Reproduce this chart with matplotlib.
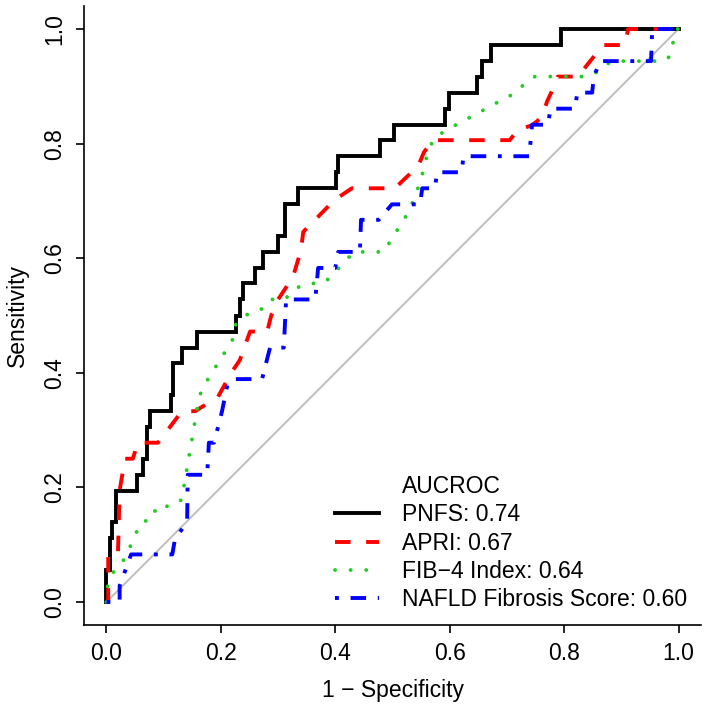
import matplotlib
matplotlib.use("Agg")
import matplotlib.pyplot as plt
from matplotlib.lines import Line2D

plt.rcParams['font.family'] = ['Liberation Sans', 'DejaVu Sans']

# ---- data (1 - specificity, sensitivity) ----
# PNFS: step curve, points where sensitivity jumps (steps-post)
pnfs_fpr = [0, 0, 0.006, 0.010, 0.017, 0.053, 0.063, 0.070, 0.076, 0.113, 0.117,
            0.132, 0.158, 0.227, 0.233, 0.239, 0.260, 0.274, 0.300, 0.312, 0.334,
            0.402, 0.405, 0.478, 0.503, 0.591, 0.599, 0.648, 0.656, 0.673, 0.795, 1.0]
pnfs_tpr = [0, 0.056, 0.111, 0.139, 0.194, 0.222, 0.250, 0.306, 0.333, 0.361, 0.417,
            0.444, 0.472, 0.500, 0.528, 0.556, 0.583, 0.611, 0.639, 0.694, 0.722,
            0.750, 0.778, 0.806, 0.833, 0.861, 0.889, 0.917, 0.944, 0.972, 1.0, 1.0]

apri_fpr = [0, 0.003, 0.003, 0.020, 0.023, 0.029, 0.032, 0.046, 0.055, 0.090, 0.132,
            0.155, 0.195, 0.218, 0.233, 0.251, 0.281, 0.288, 0.298, 0.326, 0.340,
            0.344, 0.399, 0.429, 0.504, 0.545, 0.555, 0.571, 0.705, 0.719, 0.744,
            0.761, 0.770, 0.781, 0.789, 0.824, 0.868, 0.906, 0.912, 1.0]
apri_tpr = [0, 0, 0.083, 0.083, 0.195, 0.230, 0.250, 0.250, 0.278, 0.278, 0.333,
            0.333, 0.358, 0.400, 0.422, 0.472, 0.472, 0.500, 0.525, 0.567, 0.614,
            0.646, 0.702, 0.722, 0.722, 0.761, 0.785, 0.806, 0.806, 0.824, 0.832,
            0.846, 0.873, 0.897, 0.917, 0.917, 0.972, 0.972, 1.0, 1.0]

fib4_fpr = [0, 0.002, 0.011, 0.027, 0.038, 0.060, 0.081, 0.087, 0.115, 0.132, 0.136,
            0.150, 0.159, 0.165, 0.178, 0.207, 0.221, 0.226, 0.244, 0.268, 0.285,
            0.312, 0.328, 0.350, 0.378, 0.397, 0.413, 0.434, 0.485, 0.500, 0.529,
            0.549, 0.562, 0.573, 0.595, 0.643, 0.691, 0.716, 0.734, 0.749, 0.845,
            0.883, 0.976, 0.985, 0.996, 1.0]
fib4_tpr = [0, 0.028, 0.051, 0.068, 0.089, 0.139, 0.145, 0.167, 0.167, 0.179, 0.206,
            0.287, 0.340, 0.366, 0.390, 0.436, 0.459, 0.485, 0.501, 0.508, 0.528,
            0.528, 0.546, 0.556, 0.556, 0.571, 0.592, 0.611, 0.611, 0.636, 0.682,
            0.734, 0.786, 0.810, 0.824, 0.850, 0.876, 0.889, 0.908, 0.917, 0.917,
            0.944, 0.944, 0.953, 1.0, 1.0]

nfs_fpr = [0, 0.023, 0.023, 0.043, 0.115, 0.120, 0.141, 0.142, 0.176, 0.179, 0.188,
           0.202, 0.212, 0.223, 0.272, 0.279, 0.286, 0.310, 0.314, 0.365, 0.370,
           0.400, 0.405, 0.443, 0.445, 0.476, 0.499, 0.548, 0.552, 0.574, 0.578,
           0.621, 0.624, 0.739, 0.744, 0.772, 0.776, 0.819, 0.823, 0.849, 0.852,
           0.863, 0.952, 0.954, 1.0]
nfs_tpr = [0, 0, 0.028, 0.083, 0.083, 0.111, 0.139, 0.222, 0.222, 0.278, 0.278,
           0.333, 0.382, 0.389, 0.389, 0.417, 0.444, 0.444, 0.528, 0.528, 0.583,
           0.583, 0.611, 0.611, 0.667, 0.667, 0.694, 0.694, 0.722, 0.722, 0.750,
           0.750, 0.778, 0.778, 0.833, 0.833, 0.861, 0.861, 0.889, 0.889, 0.917,
           0.944, 0.944, 1.0, 1.0]

labels = ["PNFS: 0.74", "APRI: 0.67", "FIB\u22124 Index: 0.64", "NAFLD Fibrosis Score: 0.60"]
legend_title = "AUCROC"
xticks = [0.0, 0.2, 0.4, 0.6, 0.8, 1.0]
yticks = [0.0, 0.2, 0.4, 0.6, 0.8, 1.0]

# ---- figure ----
W, H = 707, 706
FS = 16.5
fig = plt.figure(figsize=(W / 100, H / 100), dpi=100)
ax = fig.add_axes([83.6 / W, 1 - 624.9 / H, (701.4 - 83.6) / W, (624.9 - 6.1) / H])

LW = 2.8
ax.plot([0, 1], [0, 1], color='#BEBEBE', lw=1.4, zorder=1)
l1, = ax.plot(pnfs_fpr, pnfs_tpr, drawstyle='steps-post', color='black', lw=LW,
              solid_joinstyle='miter', zorder=2)
l2, = ax.plot(apri_fpr, apri_tpr, color='#FF0000', lw=LW, linestyle=(0, (4, 4)),
              dash_capstyle='butt', zorder=3)
l3, = ax.plot(fib4_fpr, fib4_tpr, color='#22CC22', lw=LW, linestyle=(0, (0.01, 4)),
              dash_capstyle='round', zorder=4)
l4, = ax.plot(nfs_fpr, nfs_tpr, color='#0000FF', lw=LW, linestyle=(0, (1, 3, 4, 3)),
              dash_capstyle='butt', zorder=5)

ax.set_xlim(-0.04, 1.04)
ax.set_ylim(-0.04, 1.04)
ax.set_xticks(xticks)
ax.set_yticks(yticks)
ax.set_xticklabels([f"{v:.1f}" for v in xticks])
ax.set_yticklabels([f"{v:.1f}" for v in yticks], rotation=90, va='center')
ax.tick_params(direction='out', length=6, width=1.2, labelsize=FS, pad=6.5, color='black')
for s in ['top', 'right']:
    ax.spines[s].set_visible(False)
for s in ['left', 'bottom']:
    ax.spines[s].set_linewidth(1.2)

ax.set_xlabel("1 \u2212 Specificity", fontsize=FS, labelpad=10)
ax.set_ylabel("Sensitivity", fontsize=FS, labelpad=10)

blank = Line2D([], [], color='none')
leg = ax.legend([blank, l1, l2, l3, l4], [legend_title] + labels,
                loc='lower left', bbox_to_anchor=(0.407, 0.022), frameon=False,
                fontsize=FS, handlelength=1.9, handletextpad=1.0,
                labelspacing=0.23, borderpad=0, borderaxespad=0)

fig.savefig("out.png", dpi=100)
